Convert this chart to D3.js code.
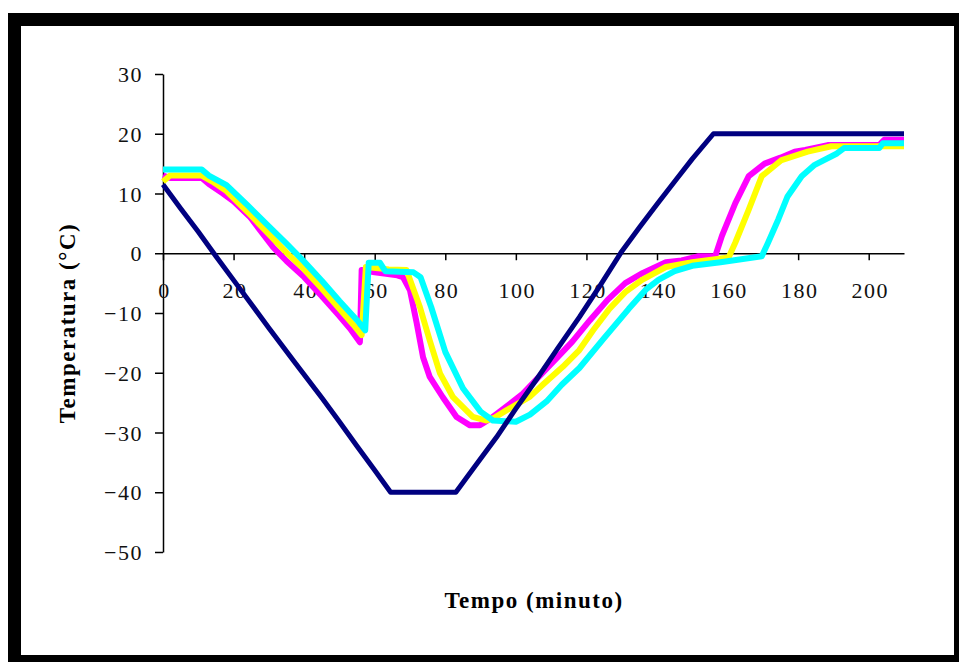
<!DOCTYPE html>
<html>
<head>
<meta charset="utf-8">
<script src="https://cdn.jsdelivr.net/npm/d3@7"></script>
<style>
  body { margin: 0; background: #fff; }
  svg { display: block; }
  .tick text { font-family: "Liberation Serif", "Times New Roman", serif; font-size: 22px; letter-spacing: 1.5px; fill: #111; }
  .axis-title { font-family: "Liberation Serif", "Times New Roman", serif; font-size: 23px; font-weight: bold; letter-spacing: 1.5px; fill: #000; }
</style>
</head>
<body>
<div id="chart"></div>
<script>
// tick values
const xTicks = [0, 20, 40, 60, 80, 100, 120, 140, 160, 180, 200];
const yTicks = [-50, -40, -30, -20, -10, 0, 10, 20, 30];

// series 1 (navy) - setpoint
const navyTime = [0, 5, 10, 15, 20, 25, 30, 37, 45, 50, 55, 60, 64.5, 83, 88, 94.5, 100, 106, 112, 118, 124, 130, 135, 140, 145, 150, 156, 210];
const navyTemp = [11.5, 7.5, 3.6, -0.5, -4.5, -8.5, -12.5, -18, -24.2, -28.2, -32.3, -36.3, -40, -40, -36, -30.8, -26, -21, -15.8, -10.7, -5.3, 0.3, 4.3, 8.2, 12, 15.8, 20, 20];

// series 2 (magenta)
const magentaTime = [0, 2, 11, 13, 17, 20, 24.6, 31.2, 35, 40, 45, 50, 53, 55.8, 56.3, 60, 66.4, 68, 70, 71.9, 73.7, 75.6, 79.3, 83.2, 87, 89.8, 93, 97, 102, 106, 111.5, 116, 121, 126, 131, 136, 142.5, 147, 151.8, 156.5, 158.4, 162.2, 166, 170.5, 175, 179, 182, 188.4, 203, 204.4, 210];
const magentaTemp = [13, 12.6, 12.6, 11.6, 10, 8.7, 6.1, 1.0, -1.3, -4, -7.2, -10.5, -12.6, -14.9, -2.8, -3.2, -3.7, -4, -6.2, -11.7, -17.4, -20.7, -24.1, -27.4, -28.8, -28.8, -27.6, -25.8, -23.5, -21, -17.6, -14.8, -11.2, -7.8, -5, -3.3, -1.5, -1.2, -0.5, -0.5, 2.9, 8.4, 12.9, 15, 16, 17, 17.3, 18.1, 18.1, 19, 19];

// series 3 (yellow)
const yellowTime = [0, 2, 11, 14, 18, 24, 30, 35, 40, 45, 50, 54, 56.3, 57.5, 64, 69, 72.8, 75.6, 78.5, 82.2, 87.8, 91.7, 94, 97.3, 104, 108, 113.3, 118, 122, 126.5, 131, 135.9, 142.5, 150, 160.3, 162.2, 166, 169.7, 175.3, 182.7, 189.4, 210];
const yellowTemp = [12, 13, 13, 12, 10.4, 6.9, 3.2, 0.1, -2.7, -5.9, -9.3, -12, -13.7, -2.3, -2.7, -2.8, -9, -14.6, -20.1, -24.1, -27.4, -28, -27.5, -26.3, -24, -21.8, -19, -16.2, -12.8, -9.3, -6.5, -4.4, -2.3, -1.5, -0.7, 1.8, 7.3, 12.9, 15.6, 17, 17.9, 17.9];

// series 4 (cyan)
const cyanTime = [0, 11, 13, 18, 24, 30, 35, 40, 45, 50, 55, 57.3, 58.3, 61.5, 63, 71, 73, 76, 80, 85, 90, 93.5, 100, 104, 108.7, 113, 118, 125, 132, 137, 140.5, 145, 150, 158, 169.7, 171.5, 174.4, 177, 181, 184.7, 191, 193, 203, 204, 210];
const cyanTemp = [14, 14, 13, 11.4, 8, 4.5, 1.6, -1.4, -4.6, -8, -11.2, -12.9, -1.6, -1.6, -3, -3.2, -4, -9, -16.5, -22.6, -26.5, -28, -28.2, -27, -24.8, -22, -19.2, -14.2, -9.3, -6, -4.4, -3, -2.1, -1.5, -0.5, 1.8, 5.7, 9.5, 12.9, 14.8, 16.7, 17.6, 17.6, 18.4, 18.4];

const series = [
  { time: magentaTime, temp: magentaTemp, color: "#ff00ff", width: 6 },
  { time: yellowTime, temp: yellowTemp, color: "#ffff00", width: 6 },
  { time: cyanTime, temp: cyanTemp, color: "#00ffff", width: 6 },
  { time: navyTime, temp: navyTemp, color: "#000080", width: 5 }
];

const width = 959, height = 662;

const svg = d3.select("#chart").append("svg")
  .attr("width", width)
  .attr("height", height);

// black frame
svg.append("rect")
  .attr("x", 8).attr("y", 13)
  .attr("width", width - 8).attr("height", height - 13)
  .attr("fill", "#000");
svg.append("rect")
  .attr("x", 21).attr("y", 26)
  .attr("width", 954 - 21).attr("height", 655 - 26)
  .attr("fill", "#fff");

const x = d3.scaleLinear().domain([0, 210]).range([163, 904]);
const y = d3.scaleLinear().domain([-50, 30]).range([552, 74]);

// y axis
const yAxis = svg.append("g")
  .attr("transform", "translate(" + x(0) + ",0)")
  .call(d3.axisLeft(y).tickValues(yTicks).tickSize(8).tickSizeOuter(0).tickPadding(12));
yAxis.select(".domain").attr("stroke", "#000").attr("stroke-width", 1.5);
yAxis.selectAll(".tick line").attr("stroke", "#000").attr("stroke-width", 1.5);
yAxis.selectAll(".tick text").attr("dy", "0.35em");

// x axis at zero
const xAxis = svg.append("g")
  .attr("transform", "translate(0," + y(0) + ")")
  .call(d3.axisBottom(x).tickValues(xTicks).tickSize(7).tickSizeOuter(0));
xAxis.select(".domain").attr("stroke", "#000").attr("stroke-width", 1.5);
xAxis.selectAll(".tick line").attr("stroke", "#000").attr("stroke-width", 1.5);
xAxis.selectAll(".tick text").attr("y", 37).attr("dy", "0.35em").attr("dx", "1px");

// lines
const line = d3.line()
  .x(d => x(d[0]))
  .y(d => y(d[1]));

series.forEach(s => {
  const pts = s.time.map((t, i) => [t, s.temp[i]]);
  svg.append("path")
    .datum(pts)
    .attr("fill", "none")
    .attr("stroke", s.color)
    .attr("stroke-width", s.width)
    .attr("stroke-linejoin", "round")
    .attr("stroke-linecap", "butt")
    .attr("d", line);
});

// axis titles
svg.append("text")
  .attr("class", "axis-title")
  .attr("transform", "translate(75,323) rotate(-90)")
  .attr("text-anchor", "middle")
  .text("Temperatura (°C)");

svg.append("text")
  .attr("class", "axis-title")
  .attr("x", 534).attr("y", 608)
  .attr("text-anchor", "middle")
  .text("Tempo (minuto)");
</script>
</body>
</html>
